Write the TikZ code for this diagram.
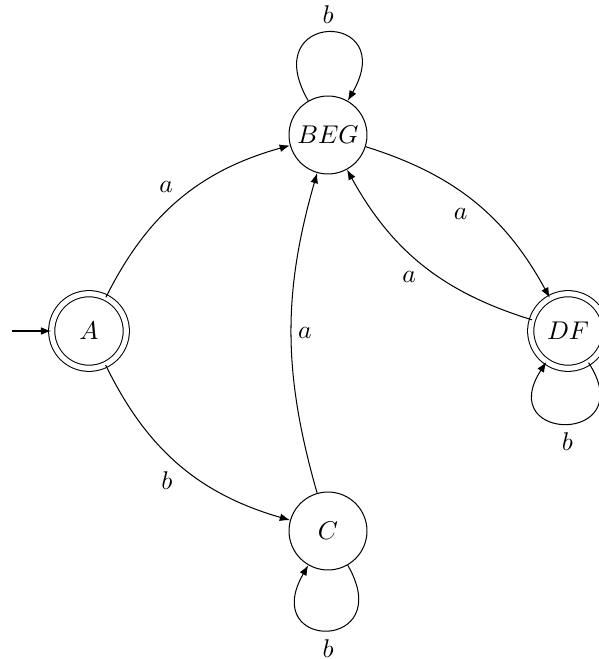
\documentclass[tikz,border=0pt]{standalone}
\usetikzlibrary{arrows.meta}
\begin{document}
\begin{tikzpicture}[x=0.39pt, y=0.39pt,
  >={Latex[length=4pt,width=3pt]},
  line width=0.4pt,
  statenode/.style={draw, circle, minimum size=30.4pt, inner sep=0pt},
  finalnode/.style={draw, circle, minimum size=29.1pt, inner sep=0pt,
                    double, double distance=2pt},
  lbl/.style={auto, inner sep=2.5pt}]
  \useasboundingbox (0,0) rectangle (598,659);

  % states
  \node[finalnode] (A)   at (89,328)  {$A$};
  \node[statenode] (BEG) at (328,524) {$BEG$};
  \node[finalnode] (DF)  at (568,328) {$DF$};
  \node[statenode] (C)   at (328,128) {$C$};

  % start arrow
  \coordinate (start) at (12,328);
  \draw[->] (start) -- (A);

  % transitions
  \draw[->] (A) to[bend left=24] node[lbl] {$a$} (BEG);
  \draw[->] (A) to[bend right=24] node[lbl, swap] {$b$} (C);
  \draw[->] (C) to[bend left=16] node[lbl, swap] {$a$} (BEG);
  \draw[->] (BEG) to[bend left=22] node[lbl, swap] {$a$} (DF);
  \draw[->] (DF) to[bend left=22] node[lbl] {$a$} (BEG);

  % self loops
  \draw[->] (BEG.120) .. controls +(120:41pt) and +(60:41pt) .. node[above] {$b$} (BEG.60);
  \draw[->] (C.300) .. controls +(300:39pt) and +(240:39pt) .. node[below] {$b$} (C.240);
  \draw[->] (DF.303) .. controls +(303:38pt) and +(237:38pt) .. node[below] {$b$} (DF.235);
\end{tikzpicture}
\end{document}
